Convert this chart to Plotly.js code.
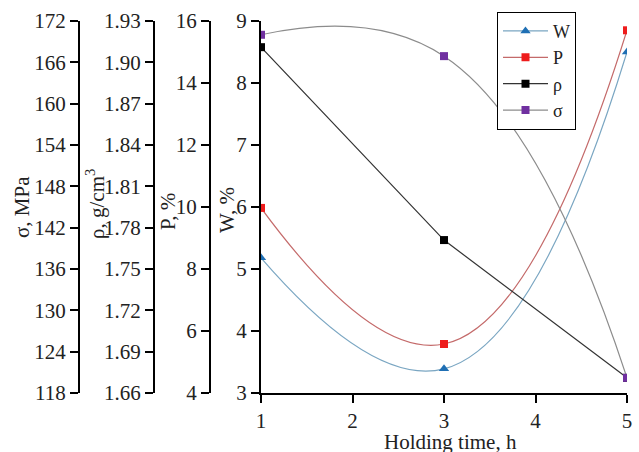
<!DOCTYPE html>
<html><head><meta charset="utf-8">
<script src="https://cdn.plot.ly/plotly-3.0.1.min.js"></script>
<style>html,body{margin:0;padding:0;background:#fff}#plot{width:639px;height:452px}</style>
</head><body><div id="plot"></div>
<script>
const hours = [1, 3, 5];
const W = [5.18, 3.39, 8.5];
const P = [9.97, 5.58, 15.7];
const rho = [1.911, 1.771, 1.671];
const sigma = [170, 166.9, 120.2];
const xTitle = 'Holding time, h';
const yTitles = ['σ, MPa', 'ρ, g/cm<sup>3</sup>', 'P, %', 'W, %'];

const F = 'Liberation Serif, Times New Roman, serif';
const fs = 21;
const axisCommon = {
  showline: true, linecolor: '#000', linewidth: 2,
  ticks: 'outside', ticklen: 8, tickwidth: 2, tickcolor: '#000',
  showgrid: false, zeroline: false, automargin: false,
  tickfont: {family: F, size: fs, color: '#222'}
};
const W_W = 627, H_H = 372, T = 21;
const px = v => v / W_W;
const py = v => 1 - (v - T) / H_H;
const traces = [
  {x: hours, y: W, name: 'W', mode: 'lines+markers', yaxis: 'y',
   line: {shape: 'spline', smoothing: 1.3, color: '#7aa6c2', width: 1.2},
   marker: {symbol: 'triangle-up', size: 9, color: '#1f6fb4'}},
  {x: hours, y: P, name: 'P', mode: 'lines+markers', yaxis: 'y2',
   line: {shape: 'spline', smoothing: 1.3, color: '#c46a6a', width: 1.2},
   marker: {symbol: 'square', size: 8, color: '#ee1c1c'}},
  {x: hours, y: rho, name: 'ρ', mode: 'lines+markers', yaxis: 'y3',
   line: {color: '#333', width: 1.2},
   marker: {symbol: 'square', size: 8, color: '#000'}},
  {x: hours, y: sigma, name: 'σ', mode: 'lines+markers', yaxis: 'y4',
   line: {shape: 'spline', smoothing: 1.3, color: '#8c8c8c', width: 1.2},
   marker: {symbol: 'square', size: 8, color: '#7030a0'}}
];
const tfont = {family: F, size: fs, color: '#222'};
const titlePos = [[22, 207], [95, 204], [168, 212], [227, 210]];
const annotations = yTitles.map((t, i) => ({
  text: t, xref: 'paper', yref: 'paper', x: px(titlePos[i][0]), y: py(titlePos[i][1]),
  xanchor: 'center', yanchor: 'middle', textangle: -90, showarrow: false, font: tfont
}));
annotations.push({text: xTitle, xref: 'paper', yref: 'paper', x: px(450), y: py(442),
  xanchor: 'center', yanchor: 'middle', showarrow: false, font: tfont});
const layout = {
  width: 639, height: 452,
  margin: {l: 0, r: 12, t: T, b: 59},
  paper_bgcolor: '#fff', plot_bgcolor: '#fff',
  showlegend: true,
  legend: {x: 497 / W_W, y: 1.025, xanchor: 'left', yanchor: 'top',
    bordercolor: '#000', borderwidth: 1, bgcolor: '#fff', itemwidth: 45,
    font: {family: F, size: 18, color: '#222'}, tracegroupgap: 0},
  annotations: annotations,
  xaxis: Object.assign({}, axisCommon, {domain: [261 / W_W, 1], range: [1, 5], tickvals: [1, 2, 3, 4, 5]}),
  yaxis: Object.assign({}, axisCommon, {range: [3, 9], dtick: 1, tick0: 3}),
  yaxis2: Object.assign({}, axisCommon, {overlaying: 'y', anchor: 'free', position: 210 / W_W, side: 'left',
    range: [4, 16], dtick: 2, tick0: 4}),
  yaxis3: Object.assign({}, axisCommon, {overlaying: 'y', anchor: 'free', position: 154 / W_W, side: 'left',
    range: [1.66, 1.93], dtick: 0.03, tick0: 1.66, tickformat: '.2f'}),
  yaxis4: Object.assign({}, axisCommon, {overlaying: 'y', anchor: 'free', position: 79 / W_W, side: 'left',
    range: [118, 172], dtick: 6, tick0: 118})
};
Plotly.newPlot('plot', traces, layout, {displayModeBar: false, staticPlot: true});
</script></body></html>
